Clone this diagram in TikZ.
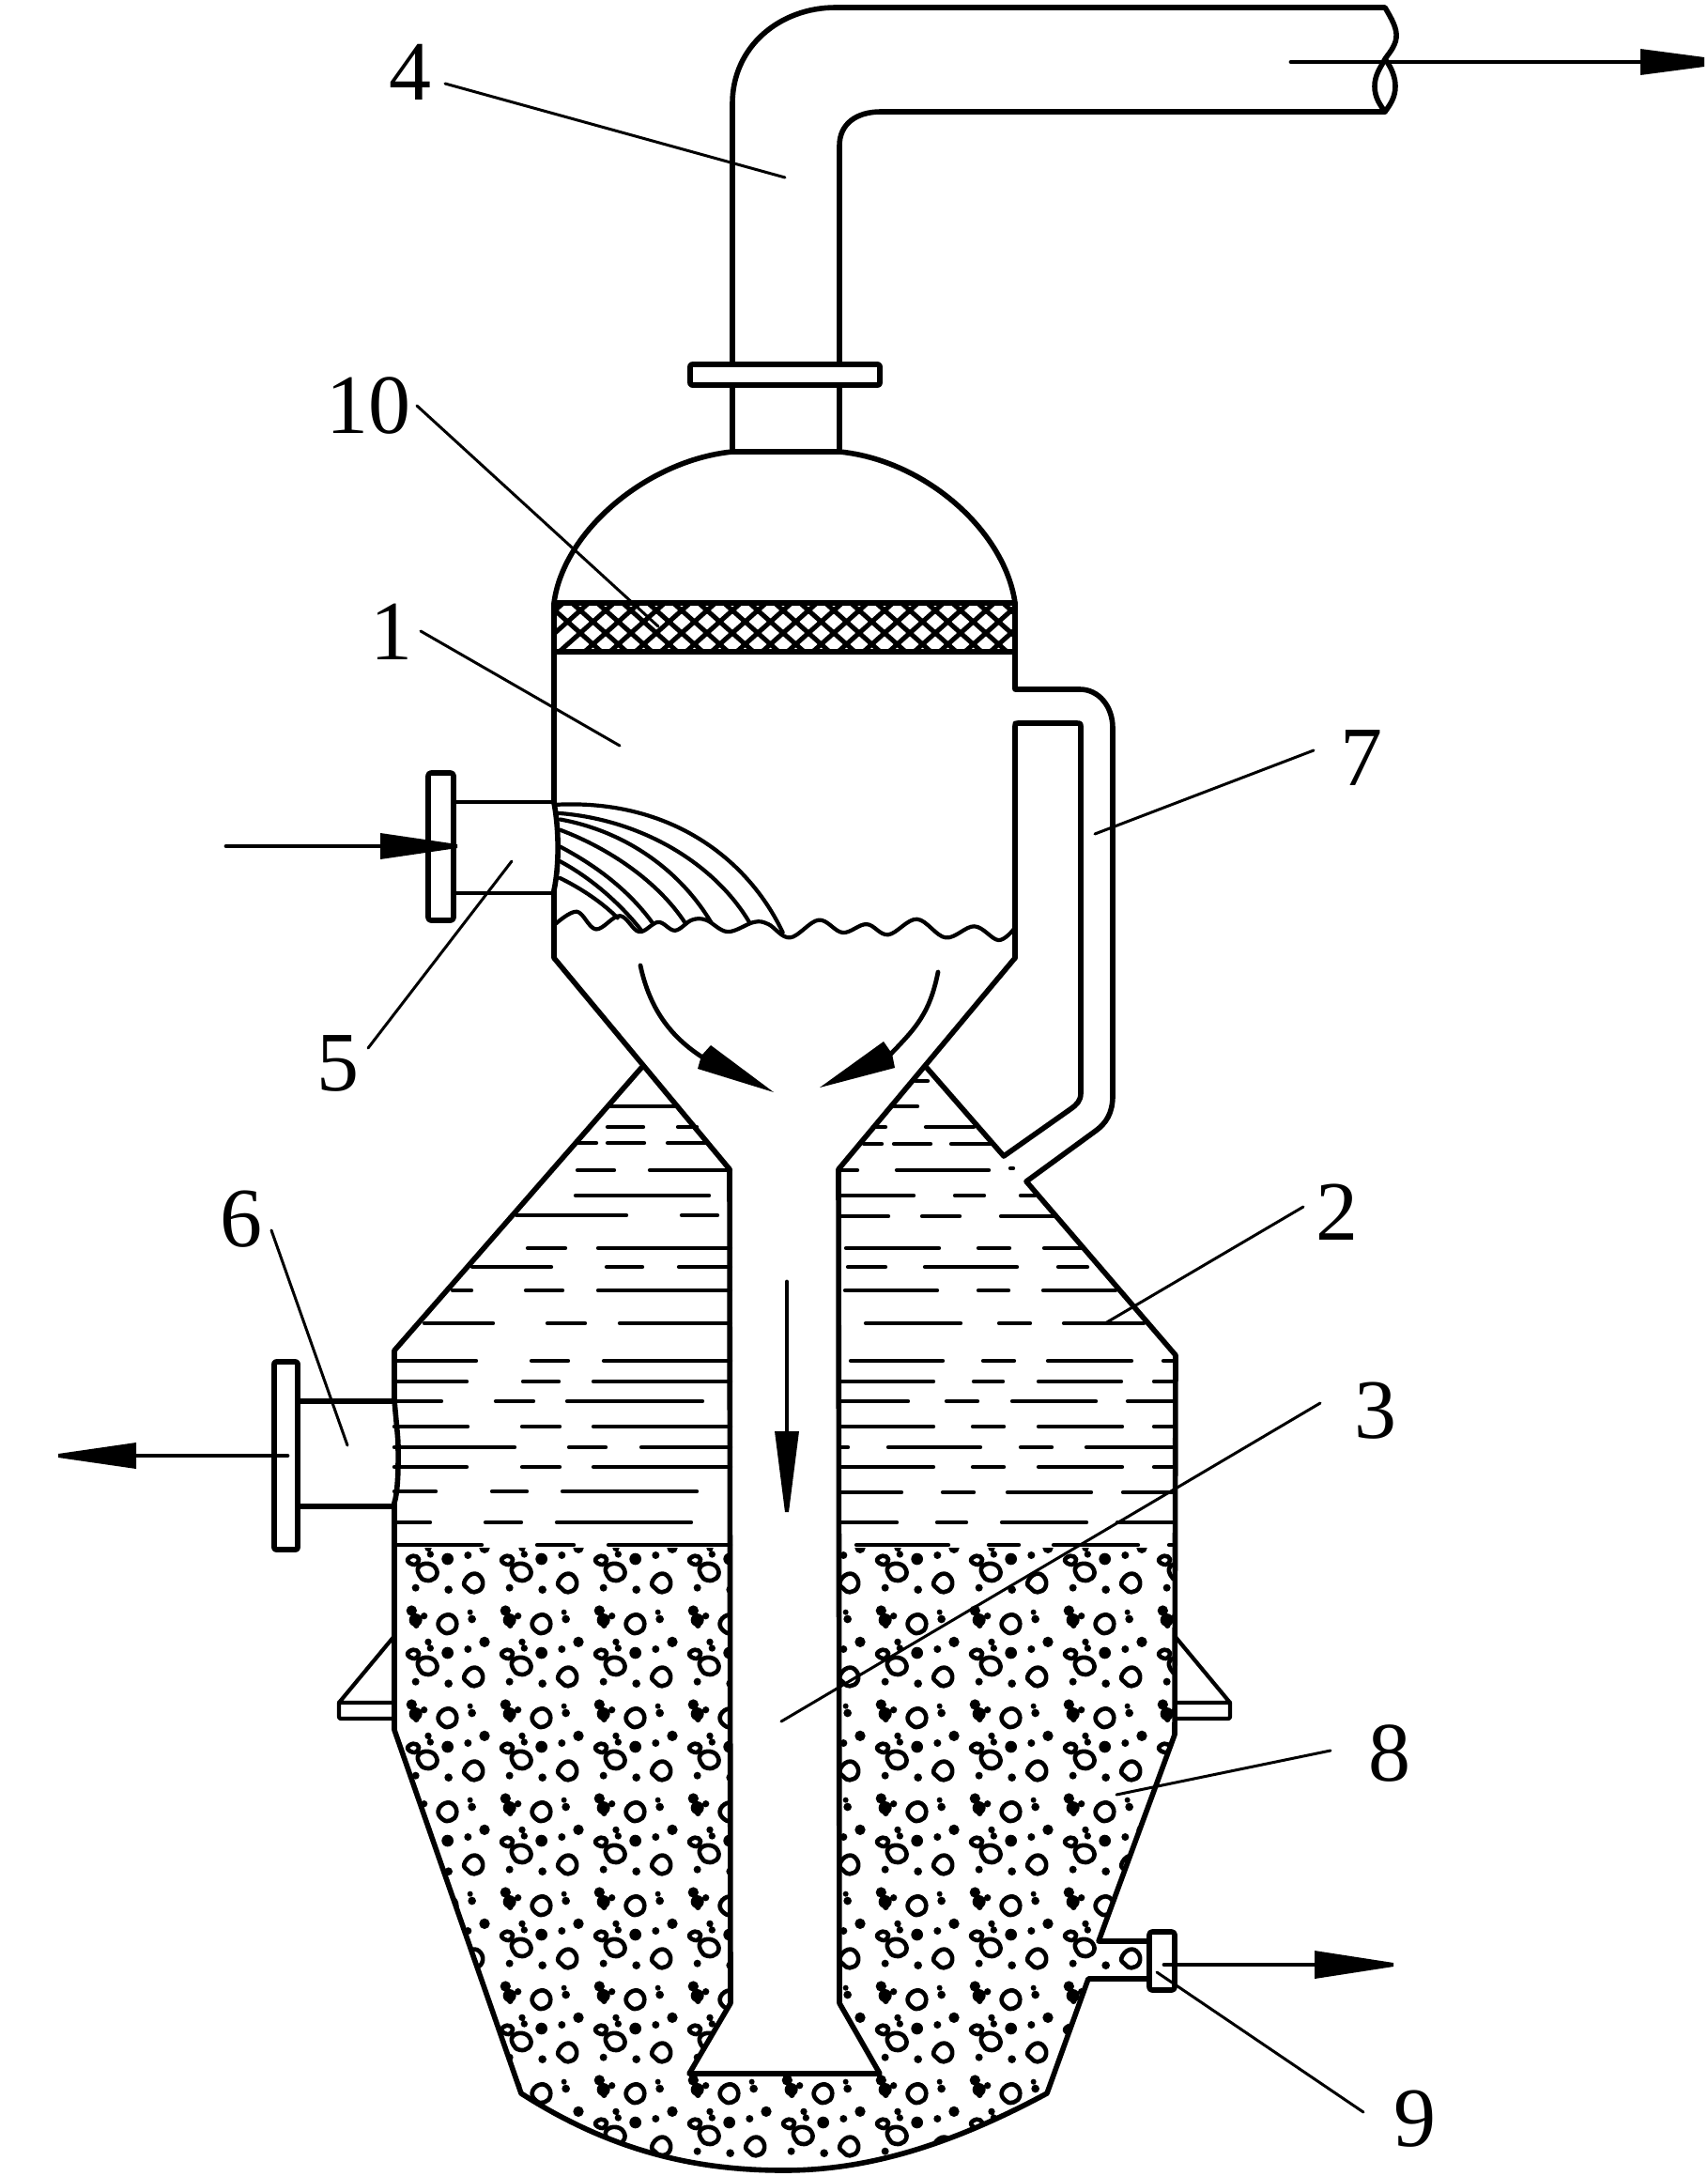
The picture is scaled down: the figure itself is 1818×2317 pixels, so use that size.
\documentclass[tikz,border=0pt]{standalone}
\usepackage{fontspec}
\setmainfont{Liberation Serif}
\tikzset{
  wall/.style={line width=5.6pt,line join=round,line cap=round},
  thinwall/.style={line width=4.2pt,line join=round,line cap=round},
  leader/.style={line width=3pt,line cap=round},
  dashseg/.style={line width=4.4pt,line cap=round},
  shaft/.style={line width=4.8pt,line cap=round},
  ringp/.style={line width=4.6pt,line join=round},
  lab/.style={inner sep=0pt,font=\fontsize{90}{90}\selectfont}
}
\newcommand{\mytile}[2]{%
\begin{scope}[shift={(#1,#2)},scale=1/3]
  \fill (25,45) circle[radius=17] (38,75) circle[radius=21] (65,62) circle[radius=11] (40,92) circle[radius=10];
  \draw[ringp] plot[smooth cycle,tension=.8] coordinates {(110,85)(132,60)(160,66)(168,95)(150,115)(125,112)};
  \fill (212,50) circle[radius=9] (218,72) circle[radius=13];
  \fill (258,145) circle[radius=17] (205,168) circle[radius=12] (140,180) circle[radius=19];
  \fill (38,272) circle[radius=12] (143,278) circle[radius=13];
  \draw[ringp] plot[smooth cycle,tension=.8] coordinates {(193,255)(218,228)(246,238)(250,270)(225,286)(205,275)};
  \fill (78,145) circle[radius=11] (85,165) circle[radius=11];
  \draw[ringp] plot[smooth cycle,tension=.8] coordinates {(12,185)(30,170)(48,180)(35,198)};
  \draw[ringp] plot[smooth cycle,tension=.8] coordinates {(48,205)(80,195)(105,215)(98,242)(70,248)(50,232)};
\end{scope}}
\begin{document}
\begin{tikzpicture}[x=1pt,y=-1pt]
\useasboundingbox (0,0) rectangle (1818,2317);
\fill[white] (0,0) rectangle (1818,2317);

% particles
\begin{scope}
  \clip (420,1648)--(1251,1648)--(1251,1847)--(1170,2067)--(1224,2067)--(1224,2107)--(1159,2107)--(1115,2229)
    .. controls (1020,2280) and (930,2311) .. (835,2311)
    .. controls (740,2311) and (650,2290) .. (555,2229)--(420,1842)--cycle;
  \foreach \i in {-1,...,8}{\foreach \j in {-1,...,6}{\mytile{430+100*\i}{1700+100*\j}}}
\end{scope}
\fill[white] (778,1640)--(778,2133)--(734,2208)--(937,2208)--(894,2133)--(894,1640)--cycle;

% liquid dashes
\foreach \yy/\xa/\xb in {
 1178/650/719,1200/647/685,1200/722/742,1217/614/635,1217/647/686,1217/711/752,
 1246/615/654,1246/692/778,1273/613/755,1294/550/667,1294/726/764,
 1329/562/602,1329/637/778,1349/503/587,1349/646/684,1349/723/778,
 1374/482/502,1374/560/599,1374/637/778,1409/452/525,1409/583/623,1409/660/778,
 1449/420/507,1449/566/605,1449/643/778,1471/420/497,1471/557/595,1471/632/778,
 1492/420/470,1492/528/568,1492/604/748,1519/420/498,1519/556/596,1519/632/778,
 1541/420/548,1541/606/645,1541/683/778,1562/420/497,1562/556/596,1562/632/778,
 1588/420/464,1588/524/561,1588/599/742,1621/420/458,1621/517/555,1621/593/736,
 1645/420/513,1645/572/611,1645/648/778,
 1151/975/988,1178/952/977,1200/930/943,1200/986/1037,
 1218/920/939,1218/952/991,1218/1013/1055,1246/894/913,1246/955/1053,1244/1076/1079,
 1273/894/973,1273/1017/1048,1273/1087/1102,1295/894/946,1295/982/1022,1295/1066/1122,
 1329/901/1000,1329/1042/1075,1329/1112/1152,1349/903/943,1349/985/1083,1349/1127/1158,
 1374/900/998,1374/1042/1074,1374/1111/1188,1409/922/1023,1409/1064/1097,1409/1133/1218,
 1449/906/1004,1449/1047/1080,1449/1116/1205,1449/1239/1250,
 1471/895/994,1471/1037/1068,1471/1106/1194,1471/1229/1250,
 1492/895/967,1492/1008/1041,1492/1078/1167,1492/1201/1250,
 1519/895/994,1519/1036/1069,1519/1106/1195,1519/1229/1250,
 1541/895/903,1541/946/1044,1541/1087/1120,1541/1157/1250,
 1562/895/994,1562/1036/1069,1562/1106/1195,1562/1229/1250,
 1589/895/960,1589/1004/1037,1589/1073/1162,1589/1196/1250,
 1621/895/955,1621/998/1029,1621/1067/1157,1621/1190/1250,
 1645/912/1010,1645/1053/1085,1645/1122/1212,1645/1245/1250}
 {\draw[dashseg] (\xa,\yy)--(\xb,\yy);}

% packing
\begin{scope}
  \clip (590,642) rectangle (1081,694);
  \foreach \k in {0,...,24}{
    \draw[line width=5pt] ({591+27*\k-108},{650-96})--({591+27*\k+108},{650+96});
    \draw[line width=5pt] ({591+27*\k-108},{650+96})--({591+27*\k+108},{650-96});
  }
\end{scope}
\draw[line width=6pt] (590,642)--(1081,642) (590,694)--(1081,694);

% upper vessel
\draw[wall] (780,481) .. controls (690,490) and (600,565) .. (590,642)
  --(590,855) .. controls (595,880) and (596,920) .. (590,948)
  --(590,1020)--(777,1245)--(778,2133)--(734,2208)--(937,2208)--(894,2133)--(893,1245)--(1081,1020);
\draw[wall] (1081,1020)--(1081,773) .. controls (1081,770) .. (1084,770)--(1146,770) .. controls (1151,770) .. (1151,775)--(1151,1164)
   .. controls (1151,1172) and (1147,1176) .. (1140,1181)--(1069,1231)--(987,1137);
\draw[wall] (1081,642)--(1081,734)--(1150,734) .. controls (1170,734) and (1185,752) .. (1185,775)--(1185,1167)
   .. controls (1185,1185) and (1178,1196) .. (1167,1204)--(1093,1258)--(1252,1443)--(1251,1847)--(1170,2067)--(1224,2067);
\draw[wall] (1224,2107)--(1159,2107)--(1115,2229)
    .. controls (1020,2280) and (930,2311) .. (835,2311)
    .. controls (740,2311) and (650,2290) .. (555,2229)--(420,1842)--(420,1600)
    .. controls (425,1585) and (424,1545) .. (424,1540) .. controls (424,1530) and (421,1505) .. (420,1490)--(420,1438)--(683,1137);
\draw[wall] (894,481) .. controls (985,490) and (1070,565) .. (1081,642);
\draw[wall] (780,481)--(894,481);

% neck, pipe
\draw[wall] (780,481)--(780,410) (894,481)--(894,410);
\draw[wall,rounded corners=2pt] (735,388) rectangle (937,410);
\draw[wall] (780,388)--(780,110) .. controls (780,50) and (830,8) .. (890,8)--(1475,8)
   .. controls (1482,20) and (1488,30) .. (1487,40) .. controls (1486,50) and (1478,58) .. (1475,63)
   .. controls (1470,72) and (1464,80) .. (1464,92) .. controls (1464,104) and (1470,112) .. (1475,119);
\draw[wall] (1475,63) .. controls (1482,72) and (1486,82) .. (1486,92) .. controls (1486,104) and (1480,112) .. (1475,119)--(938,119)
   .. controls (912,119) and (894,132) .. (894,155)--(894,388);

% inlet nozzle
\draw[wall,rounded corners=3pt] (456,823) rectangle (483,980);
\draw[thinwall] (483,854)--(590,854) (483,951)--(590,951);
% outlet 6 nozzle
\draw[wall,rounded corners=2pt] (292,1450) rectangle (317,1650);
\draw[wall] (317,1492)--(420,1492) (317,1604)--(420,1604);
% outlet 9
\draw[wall,rounded corners=3pt] (1224,2057) rectangle (1251,2119);
% supports
\draw[thinwall] (420,1742)--(361,1813)--(420,1813);
\draw[thinwall,rounded corners=2pt] (420,1830)--(361,1830)--(361,1813);
\draw[thinwall] (1251,1742)--(1310,1813)--(1251,1813);
\draw[thinwall,rounded corners=2pt] (1251,1830)--(1310,1830)--(1310,1813);

% water surface and spray
\begin{scope}[shift={(400,560)},xscale=1/1.96,yscale=1/2.24]
  \draw[thinwall] plot[smooth,tension=.6] coordinates {(375,950)(420,920)(460,962)(510,930)(550,968)(590,945)(625,965)(660,940)(690,940)(735,968)(790,945)(820,950)(865,982)(925,940)(975,970)(1025,950)(1070,975)(1130,938)(1190,982)(1250,955)(1300,988)(1332,962)};
  \draw[thinwall] (375,665) .. controls (620,650) and (780,800) .. (850,970);
  \draw[thinwall] (380,685) .. controls (560,700) and (710,810) .. (780,945);
  \draw[thinwall] (385,700) .. controls (530,730) and (640,830) .. (700,945);
  \draw[thinwall] (385,725) .. controls (490,770) and (590,850) .. (645,945);
  \draw[thinwall] (385,765) .. controls (460,810) and (530,870) .. (580,950);
  \draw[thinwall] (385,800) .. controls (450,840) and (510,900) .. (555,965);
  \draw[thinwall] (385,840) .. controls (430,865) and (475,900) .. (505,935);
\end{scope}

% arrows
\draw[shaft] (1375,66)--(1750,66);
\fill (1747,52)--(1815,61)--(1815,71)--(1747,80)--cycle;
\draw[shaft] (241,901)--(410,901);
\fill (405,887)--(487,899)--(487,903)--(405,915)--cycle;
\draw[shaft] (306,1550)--(140,1550);
\fill (145,1536)--(62,1548)--(62,1552)--(145,1564)--cycle;
\draw[shaft] (1240,2092)--(1405,2092);
\fill (1400,2077)--(1484,2090)--(1484,2094)--(1400,2107)--cycle;
\draw[shaft] (838,1365)--(838,1530);
\fill (825,1524)--(836,1610)--(840,1610)--(851,1524)--cycle;
\draw[shaft] (682,1028) .. controls (692,1075) and (715,1105) .. (750,1127);
\fill (757,1113)--(824,1163)--(743,1138)--(747,1124)--cycle;
\draw[shaft] (999,1035) .. controls (990,1080) and (975,1095) .. (946,1125);
\fill (941,1109)--(873,1158)--(953,1137)--(950,1122)--cycle;

% labels
\node[lab] (n4) at (437,77) {4};
\node[lab] (n10) at (392,432) {10};
\node[lab] (n1) at (417,673) {1};
\node[lab] (n5) at (360,1132) {5};
\node[lab] (n7) at (1450,807) {7};
\node[lab] (n6) at (257,1298) {6};
\node[lab] (n2) at (1424,1291) {2};
\node[lab] (n3) at (1465,1502) {3};
\node[lab] (n8) at (1480,1867) {8};
\node[lab] (n9) at (1507,2256) {9};

\foreach \nm/\ax/\ay/\bx/\by in {
 four/474/89/836/189, ten/444/432/701/667, one/448/672/660/794, five/392/1116/545/917,
 seven/1399/799/1166/888, six/289/1310/370/1539, two/1388/1285/1177/1409,
 three/1406/1494/832/1833, eight/1417/1864/1189/1911, nine/1452/2249/1232/2100}{
  \coordinate (\nm a) at (\ax,\ay);
  \coordinate (\nm b) at (\bx,\by);
  \draw[leader] (\nm a)--(\nm b);
}
\end{tikzpicture}
\end{document}
